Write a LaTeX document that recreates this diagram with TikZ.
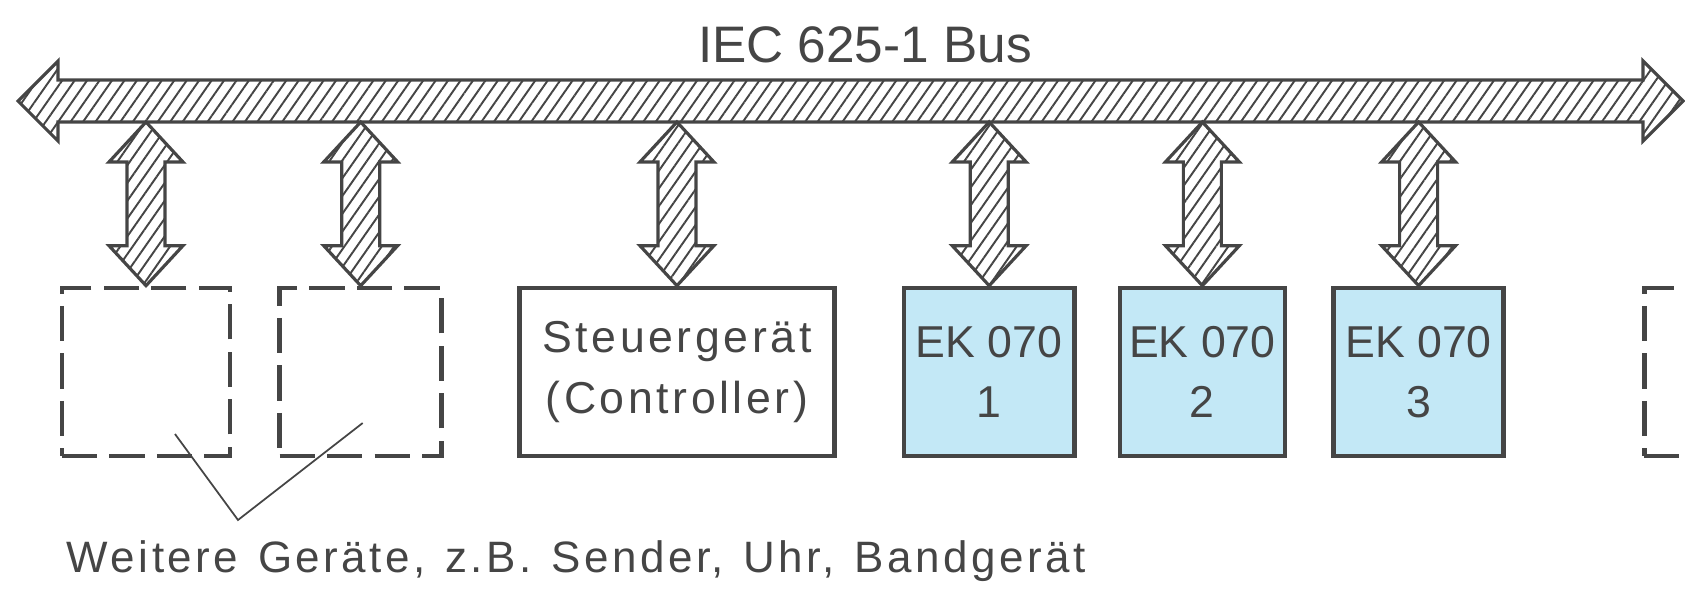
\documentclass[tikz,border=0pt]{standalone}
\usepackage{fontspec}
\setmainfont{Liberation Sans}
\newfontfamily\widefont[LetterSpace=8]{Liberation Sans}
\newfontfamily\notefont[LetterSpace=8, WordSpace=1.25]{Liberation Sans}
\usetikzlibrary{positioning, patterns.meta, calc}
\definecolor{inkgray}{HTML}{454545}
\definecolor{ekblue}{HTML}{C3E8F6}

\begin{document}
\begin{tikzpicture}[x=0.01cm, y=-0.01cm,
    device/.style={rectangle, draw=inkgray, line width=1.3pt, minimum height=1.68cm,
                   inner sep=0pt, text=inkgray, align=center},
    spare/.style={device, dash pattern=on 10pt off 3.5pt, minimum width=1.68cm},
    ek/.style={device, fill=ekblue, minimum width=1.7cm, font=\fontsize{12.7}{17}\selectfont},
    hatch/.style={draw=inkgray, line width=0.9pt,
                  pattern={Lines[angle=55, distance=2.9pt, line width=0.55pt]}, pattern color=inkgray},
    txt/.style={text=inkgray, inner sep=0pt}
]
    \clip (0,0) rectangle (1685,596);

    \coordinate (busL) at (18,101);
    \coordinate (busR) at (1683,101);
    \draw [hatch] (busL) -- ($(busL)+(40,-40)$) -- ($(busL)+(40,-21)$) -- ($(busR)+(-40,-21)$)
                  -- ($(busR)+(-40,-40)$) -- (busR) -- ($(busR)+(-40,40)$) -- ($(busR)+(-40,21)$)
                  -- ($(busL)+(40,21)$) -- ($(busL)+(40,40)$) -- cycle;
    \node [txt, anchor=base, font=\fontsize{14.6}{17}\selectfont] (title) at (865,62) {IEC 625-1 Bus};

    \node [spare] (dev1) at (146,372) {};
    \node [spare, minimum width=1.62cm, right=0.45cm of dev1] (dev2) {};
    \node [device, minimum width=3.15cm, right=0.73cm of dev2,
           font=\widefont\fontsize{12.7}{17.5}\selectfont] (ctrl) {Steuergerät\\(Controller)};
    \node [ek, right=0.65cm of ctrl] (ek1) {EK 070\\1};
    \node [ek, minimum width=1.65cm, right=0.41cm of ek1] (ek2) {EK 070\\2};
    \node [ek, right=0.44cm of ek2] (ek3) {EK 070\\3};
    \node [spare, right=1.36cm of ek3] (dev3) {};

    \foreach \dev in {dev1, dev2, ctrl, ek1, ek2, ek3} {
        \coordinate (top) at ($(busL -| \dev.north)+(0,21)$);
        \coordinate (bot) at (\dev.north);
        \draw [hatch] (top) -- ($(top)+(37,40)$) -- ($(top)+(19,40)$) -- ($(bot)+(19,-40)$)
                      -- ($(bot)+(37,-40)$) -- (bot) -- ($(bot)+(-37,-40)$) -- ($(bot)+(-19,-40)$)
                      -- ($(top)+(-19,40)$) -- ($(top)+(-37,40)$) -- cycle;
    }

    \node [txt, anchor=base west, font=\notefont\fontsize{12.5}{14}\selectfont] (note) at (66,572)
          {Weitere Geräte, z.B. Sender, Uhr, Bandgerät};
    \coordinate (fork) at (238,520);
    \draw [inkgray, line width=0.5pt] ([shift={(29,62)}]dev1.center) -- (fork)
                                      -- ([shift={(2,51)}]dev2.center);
\end{tikzpicture}
\end{document}
